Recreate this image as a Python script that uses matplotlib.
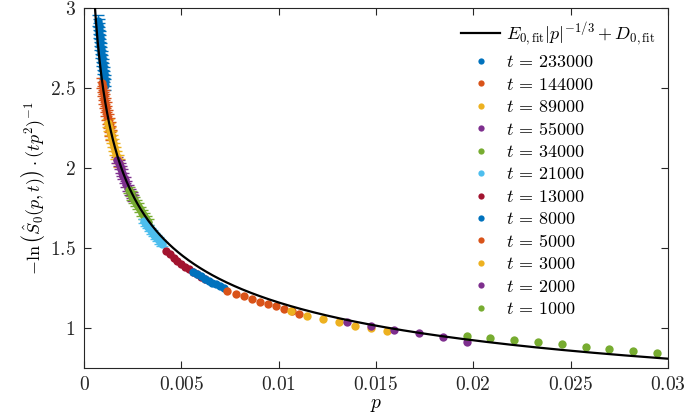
import numpy as np
import matplotlib
matplotlib.use("Agg")
import matplotlib.pyplot as plt

plt.rcParams['mathtext.fontset'] = 'cm'
plt.rcParams['font.family'] = 'DejaVu Serif'

# fit parameters of E0 |p|^(-1/3) + D0
E0_fit = 0.247
D0_fit = 0.012

t_labels = ["233000", "144000", "89000", "55000", "34000", "21000",
            "13000", "8000", "5000", "3000", "2000", "1000"]

colors = ["#0072BD", "#D95319", "#EDB120", "#7E2F8E", "#77AC30", "#4DBEEE",
          "#A2142F", "#0072BD", "#D95319", "#EDB120", "#7E2F8E", "#77AC30"]

# one list per series
p_233000 = [0.000743, 0.000759, 0.000775, 0.000792, 0.000810, 0.000829, 0.000847, 0.000866, 0.000885,
            0.000910, 0.000928, 0.000956, 0.000975, 0.001004, 0.001026, 0.001057, 0.001081]
y_233000 = [2.92, 2.895, 2.87, 2.845, 2.82, 2.795, 2.77, 2.745, 2.72,
            2.695, 2.67, 2.645, 2.62, 2.595, 2.57, 2.545, 2.52]

p_144000 = [0.000924, 0.000952, 0.000982, 0.001013, 0.001046, 0.001079, 0.001115,
            0.001152, 0.00119, 0.00123, 0.00127, 0.001315, 0.00136, 0.001407]
y_144000 = [2.53, 2.505, 2.48, 2.455, 2.43, 2.405, 2.38, 2.355, 2.33, 2.305, 2.28, 2.255, 2.23, 2.205]

p_89000 = [0.001252, 0.001297, 0.001341, 0.001389, 0.001439, 0.001492, 0.001547,
           0.001604, 0.001664, 0.001728, 0.001794]
y_89000 = [2.28, 2.255, 2.23, 2.205, 2.18, 2.155, 2.13, 2.105, 2.08, 2.055, 2.03]

p_55000 = [0.00172, 0.001774, 0.00183, 0.001888, 0.001948, 0.00201, 0.002092,
           0.002179, 0.00227, 0.002367, 0.002448, 0.002533]
y_55000 = [2.05, 2.03, 2.01, 1.99, 1.97, 1.95, 1.925, 1.90, 1.875, 1.85, 1.83, 1.81]

p_34000 = [0.002328, 0.002408, 0.002491, 0.002576, 0.002668, 0.002763, 0.002863,
           0.002967, 0.003073, 0.003189, 0.003307]
y_34000 = [1.86, 1.84, 1.82, 1.80, 1.78, 1.76, 1.74, 1.72, 1.70, 1.68, 1.66]

p_21000 = [0.0031, 0.0032, 0.0033, 0.0034, 0.0035, 0.0036, 0.0037, 0.0038, 0.0039, 0.0040]
y_21000 = [1.670, 1.650, 1.633, 1.615, 1.599, 1.583, 1.567, 1.554, 1.539, 1.526]

p_13000 = [0.0042, 0.0044, 0.0046, 0.0048, 0.0050, 0.0052, 0.0054, 0.0056, 0.0058, 0.0060, 0.0062]
y_13000 = [1.483, 1.460, 1.439, 1.419, 1.400, 1.383, 1.366, 1.350, 1.334, 1.319, 1.305]

p_8000 = [0.0056, 0.0058, 0.0060, 0.0062, 0.0064, 0.0066, 0.0068, 0.0070, 0.0072]
y_8000 = [1.352, 1.337, 1.322, 1.308, 1.295, 1.283, 1.271, 1.260, 1.249]

p_5000 = [0.00736, 0.00779, 0.00821, 0.00861, 0.00903, 0.00944, 0.00985, 0.01026, 0.01067, 0.01106]
y_5000 = [1.231, 1.2125, 1.196, 1.179, 1.1625, 1.148, 1.136, 1.119, 1.103, 1.0875]

p_3000 = [0.01065, 0.01147, 0.0123, 0.0131, 0.01393, 0.01475, 0.01555]
y_3000 = [1.102, 1.075, 1.054, 1.036, 1.014, 0.998, 0.977]

p_2000 = [0.0135, 0.01475, 0.01595, 0.0172, 0.01843, 0.01968]
y_2000 = [1.036, 1.0125, 0.9875, 0.967, 0.944, 0.913]

p_1000 = [0.01968, 0.02087, 0.0221, 0.02333, 0.02456, 0.0258, 0.02698, 0.02821, 0.02945]
y_1000 = [0.95, 0.9375, 0.925, 0.9125, 0.90, 0.881, 0.869, 0.856, 0.844]

# error bar half-height per series (the lower ones are hidden by the dots)
err = [0.035, 0.03, 0.025, 0.02, 0.018, 0.012, 0, 0, 0, 0, 0, 0]

p_all = [p_233000, p_144000, p_89000, p_55000, p_34000, p_21000,
         p_13000, p_8000, p_5000, p_3000, p_2000, p_1000]
y_all = [y_233000, y_144000, y_89000, y_55000, y_34000, y_21000,
         y_13000, y_8000, y_5000, y_3000, y_2000, y_1000]

xticks = [0, 0.005, 0.01, 0.015, 0.02, 0.025, 0.03]
xticklabels = ["0", "0.005", "0.01", "0.015", "0.02", "0.025", "0.03"]
yticks = [1, 1.5, 2, 2.5, 3]
yticklabels = ["1", "1.5", "2", "2.5", "3"]

fig = plt.figure(figsize=(6.85, 4.17), dpi=100)
ax = fig.add_axes([0.1226, 0.118, 0.8524, 0.863])

p_fit = np.linspace(0.0005, 0.03, 600)
ax.plot(p_fit, E0_fit * np.abs(p_fit) ** (-1 / 3) + D0_fit, color='k', lw=1.6, zorder=10,
        label=r"$E_{0,\mathrm{fit}}|p|^{-1/3}+D_{0,\mathrm{fit}}$")

for i in range(len(t_labels)):
    p = p_all[i]
    y = y_all[i]
    if err[i] > 0:
        ax.errorbar(p, y, yerr=err[i], fmt='none', ecolor=colors[i], elinewidth=1,
                    capsize=4, capthick=1, zorder=1)
    ax.plot(p, y, 'o', color=colors[i], ms=6, mew=0, zorder=2,
            label=r"$t\,=\,%s$" % t_labels[i])

ax.set_xlim(0, 0.03)
ax.set_ylim(0.75, 3)
ax.set_xticks(xticks)
ax.set_xticklabels(["$%s$" % s for s in xticklabels])
ax.set_yticks(yticks)
ax.set_yticklabels(["$%s$" % s for s in yticklabels])
ax.tick_params(direction='in', length=5, top=True, right=True, labelsize=14,
               color='#262626', labelcolor='#262626', pad=6)
for s in ax.spines.values():
    s.set_color('#262626')
    s.set_linewidth(0.8)

ax.set_xlabel(r"$p$", fontsize=14, labelpad=1)
ax.set_ylabel(r"$-\ln\left(\hat{S}_0(p,t)\right)\cdot(tp^2)^{-1}$", fontsize=13, labelpad=2)

ax.legend(loc='upper right', frameon=False, fontsize=13, handlelength=2.2,
          handletextpad=0.3, labelspacing=0.245, markerscale=0.75,
          borderaxespad=0.3)

fig.savefig("out.png", dpi=100)
